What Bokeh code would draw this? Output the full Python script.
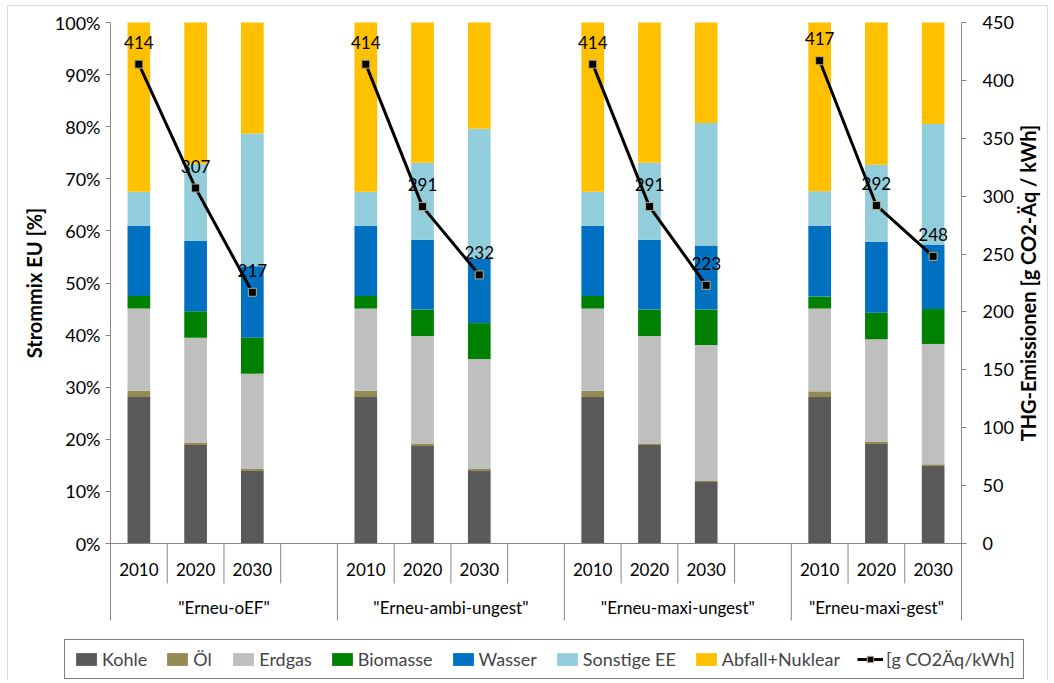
import numpy as np
from bokeh.plotting import figure
from bokeh.models import (ColumnDataSource, Range1d, LinearAxis, FixedTicker,
                          Legend, LegendItem)
from bokeh.core.properties import value
from bokeh.embed import file_html
from bokeh.resources import INLINE

# ---------------- data ----------------
groups = ['"Erneu-oEF"', '"Erneu-ambi-ungest"', '"Erneu-maxi-ungest"', '"Erneu-maxi-gest"']
years = ["2010", "2020", "2030"]
series = ["Kohle", "Öl", "Erdgas", "Biomasse", "Wasser", "Sonstige EE", "Abfall+Nuklear"]
line_label = "[g CO2Äq/kWh]"
y_title = "Strommix EU [%]"
y2_title = "THG-Emissionen [g CO2-Äq / kWh]"

# shares in % (order: group1 2010/2020/2030, group2 ..., group3 ..., group4 ...)
kohle    = [28.1, 18.9, 13.9, 28.1, 18.7, 13.9, 28.1, 18.9, 11.8, 28.1, 19.1, 14.9]
oel      = [1.2, 0.5, 0.4, 1.2, 0.5, 0.4, 1.2, 0.3, 0.2, 1.1, 0.4, 0.3]
erdgas   = [15.8, 20.1, 18.3, 15.8, 20.6, 21.1, 15.8, 20.6, 26.1, 15.9, 19.7, 23.1]
biomasse = [2.4, 5.1, 6.9, 2.4, 5.1, 6.9, 2.4, 5.1, 6.8, 2.3, 5.1, 6.7]
wasser   = [13.5, 13.5, 13.7, 13.5, 13.4, 12.4, 13.5, 13.4, 12.3, 13.6, 13.6, 12.3]
sonstige = [6.5, 14.8, 25.5, 6.5, 14.8, 24.9, 6.5, 14.8, 23.5, 6.6, 14.8, 23.2]
abfall   = [32.5, 27.1, 21.3, 32.5, 26.9, 20.4, 32.5, 26.9, 19.3, 32.4, 27.3, 19.5]
emissions = [414, 307, 217, 414, 291, 232, 414, 291, 223, 417, 292, 248]

colors = ["#595959", "#948A54", "#BFBFBF", "#008000", "#0070C0", "#92CDDC", "#FFC000"]
MARKER_EDGE = "#B5AE8A"
FONT = "Lato"
AX = "#868686"
BORDER = "#D9D9D9"

# ---------------- geometry (canvas pixels) ----------------
W, H = 1050, 680
FX0, FX1 = 110, 961        # plot area left / right
FY_TOP, FY_ZERO = 22, 543  # 100 % and 0 % rows
n_slots = 4 * (len(groups) - 1) + len(years)
ppu_x = (FX1 - FX0) / n_slots
ppu_y = (FY_ZERO - FY_TOP) / 100.0
x_start = -FX0 / ppu_x
x_end = x_start + W / ppu_x
y_end = FY_ZERO / ppu_y
y_start = -(H - FY_ZERO) / ppu_y
EM = 4.5                   # 450 g/kWh <-> 100 %


def xd(px):
    return x_start + px / ppu_x


def yd(py):
    return (FY_ZERO - py) / ppu_y


xs = []
for g in range(len(groups)):
    for j in range(len(years)):
        xs.append(4 * g + j + 0.5)

data = dict(x=xs, emis=[float(v) for v in emissions],
            lbl=[str(v) for v in emissions])
for name, vals in zip(series, [kohle, oel, erdgas, biomasse, wasser, sonstige, abfall]):
    data[name] = vals
src = ColumnDataSource(data)

p = figure(width=W, height=H, x_range=Range1d(x_start, x_end), y_range=Range1d(y_start, y_end),
           x_axis_type=None, y_axis_type=None, output_backend="svg",
           toolbar_location=None, min_border_left=0, min_border_right=0,
           min_border_top=0, min_border_bottom=0)
p.outline_line_color = None
p.background_fill_color = "white"
p.border_fill_color = "white"
p.extra_y_ranges = {"em": Range1d(y_start * EM, y_end * EM)}

# chart-area border
p.segment(x0=[xd(7), xd(7), xd(1047)], y0=[yd(5), yd(5), yd(5)],
          x1=[xd(7), xd(1047), xd(1047)], y1=[yd(H + 5), yd(5), yd(H + 5)],
          line_color=BORDER, line_width=1)

bars = p.vbar_stack(series, x="x", width=0.4, color=colors, line_color=None, source=src)

line_r, mark_r = [], []
for g in range(len(groups)):
    sl = slice(3 * g, 3 * g + 3)
    line_r.append(p.line(xs[sl], emissions[sl], y_range_name="em",
                         line_color="black", line_width=3))
    mark_r.append(p.scatter(xs[sl], emissions[sl], y_range_name="em", marker="square",
                            size=8, fill_color="black", line_color=MARKER_EDGE, line_width=1))

p.text(x="x", y="emis", text="lbl", source=src, y_range_name="em",
       text_font=value(FONT), text_font_size="17px", text_align="center",
       text_baseline="alphabetic", y_offset=-22, text_color="black")

# ---------------- value axes (fixed inside the canvas) ----------------
left = LinearAxis(ticker=FixedTicker(ticks=list(range(0, 101, 10))), bounds=(0, 100),
                  fixed_location=0,
                  major_label_overrides={t: f"{t}%" for t in range(0, 101, 10)})
right = LinearAxis(y_range_name="em", ticker=FixedTicker(ticks=list(range(0, 451, 50))),
                   bounds=(0, 450), fixed_location=n_slots)
for ax, stand in ((left, 5), (right, 16)):
    ax.axis_line_color = AX
    ax.major_tick_line_color = AX
    ax.minor_tick_line_color = None
    ax.major_tick_out = 5
    ax.major_tick_in = 0
    ax.major_label_text_font = FONT
    ax.major_label_text_font_size = "18px"
    ax.major_label_text_color = "black"
    ax.major_label_standoff = stand
p.add_layout(left, "left")
p.add_layout(right, "right")

p.text(x=[xd(33)], y=[50], text=[y_title], angle=np.pi / 2,
       text_font=value(FONT), text_font_style="bold", text_font_size="20px",
       text_align="center", text_baseline="middle", text_color="black")
p.text(x=[xd(1027)], y=[50], text=[y2_title], angle=np.pi / 2,
       text_font=value(FONT), text_font_style="bold", text_font_size="20px",
       text_align="center", text_baseline="middle", text_color="black")

# ---------------- category axis ----------------
long_b = [0] + [4 * g for g in range(1, len(groups))] + [n_slots]
short_b = [b for b in range(1, n_slots) if b not in long_b]
p.segment(x0=[0], y0=[0], x1=[n_slots], y1=[0], line_color=AX, line_width=1)
p.segment(x0=long_b, y0=[0] * len(long_b), x1=long_b, y1=[yd(620)] * len(long_b),
          line_color=AX, line_width=1)
p.segment(x0=short_b, y0=[0] * len(short_b), x1=short_b, y1=[yd(583)] * len(short_b),
          line_color=AX, line_width=1)
p.text(x=xs, y=[yd(569)] * len(xs), text=years * len(groups), text_font=value(FONT),
       text_font_size="17px", text_align="center", text_baseline="middle", text_color="black")
gx = [4 * g + 2 for g in range(len(groups) - 1)] + [4 * (len(groups) - 1) + len(years) / 2]
p.text(x=gx, y=[yd(607)] * len(gx), text=groups, text_font=value(FONT),
       text_font_size="17px", text_align="center", text_baseline="middle", text_color="black")

# ---------------- legend ----------------
items = [LegendItem(label=s, renderers=[r]) for s, r in zip(series, bars)]
items.append(LegendItem(label=line_label, renderers=[line_r[0], mark_r[0]]))
legend = Legend(items=items, orientation="horizontal", location=(64, 1),
                label_text_font=FONT, label_text_font_size="18px",
                glyph_width=26, glyph_height=16, label_standoff=3, spacing=17,
                padding=8, margin=0, label_height=16,
                border_line_color="black", border_line_width=1,
                background_fill_color="white", background_fill_alpha=1)
p.add_layout(legend, "center")

open("out.html", "w").write(file_html(p, INLINE))
